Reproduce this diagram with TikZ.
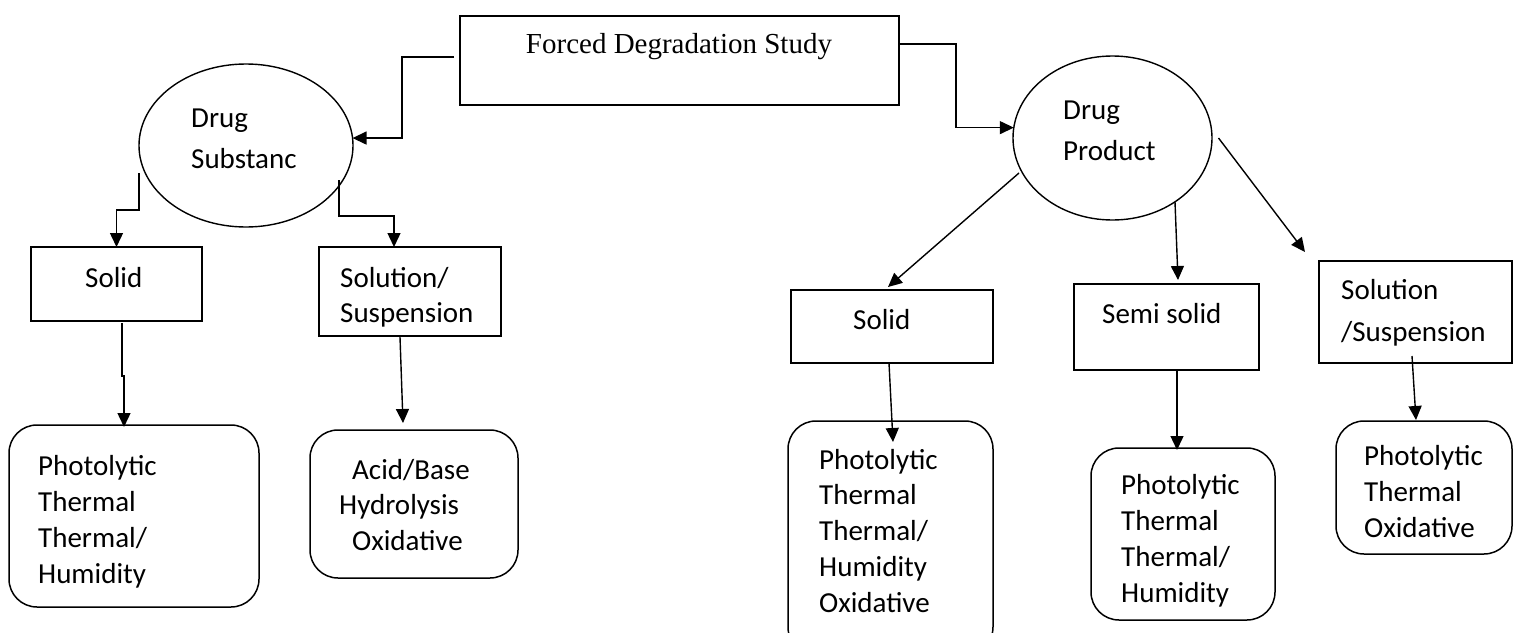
\documentclass[tikz,border=0pt]{standalone}
\usepackage{fontspec}
\newfontfamily\calib{Carlito}
\newfontfamily\tnr{Liberation Serif}
\usetikzlibrary{arrows.meta,shapes.geometric,calc}
\tikzset{
  boxrect/.style={draw, line width=1.5pt, rectangle, inner sep=0pt, outer sep=0pt},
  roundbox/.style={draw, line width=1.5pt, rectangle, rounded corners=28pt, inner sep=0pt, outer sep=0pt},
  ellbox/.style={draw, line width=1.4pt, ellipse, inner sep=0pt, outer sep=0pt},
  conn/.style={line width=1.4pt, -{Triangle[length=14pt,width=13pt]}},
  txt/.style={anchor=base west, inner sep=0pt, align=left, font=\calib\fontsize{29}{36}\selectfont},
  ellt/.style={anchor=base west, inner sep=0pt, align=left, font=\calib\fontsize{29}{41}\selectfont},
}
\begin{document}
\begin{tikzpicture}[x=1pt,y=-1pt]
\useasboundingbox (0,0) rectangle (1513,632);
\clip (0,0) rectangle (1513,632);
% shapes
\node[boxrect, minimum width=439pt, minimum height=89pt] (fds) at (679.5,60.5) {};
\node[ellbox, minimum width=214pt, minimum height=163pt] (ds) at (246,145.5) {};
\node[ellbox, minimum width=199pt, minimum height=164pt] (dp) at (1112.5,138) {};
\node[boxrect, minimum width=171pt, minimum height=74pt] (sl) at (116.5,284) {};
\node[boxrect, minimum width=182pt, minimum height=89pt] (susl) at (410,291.5) {};
\node[roundbox, minimum width=250pt, minimum height=182pt] (bl1) at (134,516) {};
\node[roundbox, minimum width=208pt, minimum height=148pt] (bl2) at (414,504) {};
\node[boxrect, minimum width=202pt, minimum height=73pt] (sr) at (892,326.5) {};
\node[boxrect, minimum width=185pt, minimum height=86pt] (ss) at (1166.5,327) {};
\node[boxrect, minimum width=193pt, minimum height=102pt] (susr) at (1415.5,312) {};
\node[roundbox, minimum width=205pt, minimum height=234pt] (br1) at (890.5,538) {};
\node[roundbox, minimum width=184pt, minimum height=172pt] (br2) at (1183,534) {};
\node[roundbox, minimum width=176pt, minimum height=133pt] (br3) at (1424,487.5) {};
% texts (anchor = baseline of the last line)
\node[anchor=base, inner sep=0pt, font=\tnr\fontsize{29}{34}\selectfont] (tfds) at (679,53) {Forced Degradation Study};
\node[ellt] (tds) at (191,168) {Drug\\Substanc};
\node[ellt] (tdp) at (1063,160) {Drug\\Product};
\node[txt] (tsl) at (85,287) {Solid};
\node[txt, font=\calib\fontsize{29}{35}\selectfont] (tsusl) at (340,322) {Solution/\\Suspension};
\node[txt] (tbl1) at (38,583) {Photolytic\\Thermal\\Thermal/\\Humidity};
\node[txt, font=\calib\fontsize{29}{35.5}\selectfont] (tbl2) at (339,550) {\hspace*{13pt}Acid/Base\\Hydrolysis\\\hspace*{13pt}Oxidative};
\node[txt] (tsr) at (853,329) {Solid};
\node[txt] (tss) at (1102,323) {Semi solid};
\node[txt, font=\calib\fontsize{29}{42}\selectfont] (tsusr) at (1341,341) {Solution\\/Suspension};
\node[txt, font=\calib\fontsize{29}{35.75}\selectfont] (tbr1) at (819,612) {Photolytic\\Thermal\\Thermal/\\Humidity\\Oxidative};
\node[txt, font=\calib\fontsize{29}{35.7}\selectfont] (tbr2) at (1121,602) {Photolytic\\Thermal\\Thermal/\\Humidity};
\node[txt] (tbr3) at (1364,537) {Photolytic\\Thermal\\Oxidative};
% connectors
\draw[conn] ($(fds.west)+(-6,-3.5)$) -- ++(-52,0) |- (ds.4);
\draw[conn] ($(fds.east)+(0,-16.5)$) -- ++(57,0) |- (dp.174);
\draw[conn] ($(ds.west)+(0,27.5)$) -- ++(0,37) -| (sl.north);
\draw[conn] ($(ds.center)+(93,34.5)$) -- ++(0,36) -| ($(susl.north)+(-16,0)$);
\draw[conn] ($(sl.south)+(5.5,2)$) -- ++(0,53) -- ++(2,0) -- ($(bl1.north)+(-10,2)$);
\draw[conn] ($(susl.south)+(-10,1)$) -- ($(bl2.north)+(-11,-7)$);
\draw[conn] ($(dp.center)+(-93.5,35)$) -- ($(sr.north)+(-4,-3)$);
\draw[conn] ($(dp.center)+(62.5,64)$) -- ($(ss.north)+(11.5,-4)$);
\draw[conn] ($(dp.east)+(6.5,0)$) -- ($(susr.north west)+(-14,-9)$);
\draw[conn] ($(sr.south)+(-3,0)$) -- ($(br1.north)+(2.5,21)$);
\draw[conn] ($(ss.south)+(10.5,0)$) -- ($(br2.north)+(-6,2)$);
\draw[conn] ($(susr.south)+(-3.5,-7)$) -- ($(br3.north)+(-8,-1)$);
\end{tikzpicture}
\end{document}
